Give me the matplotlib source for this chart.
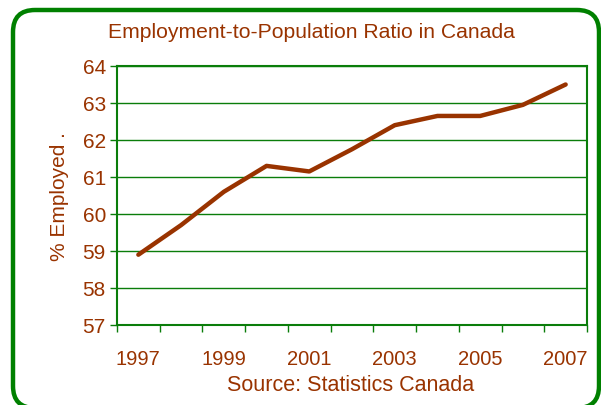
import numpy as np
import matplotlib
matplotlib.use("Agg")
import matplotlib.pyplot as plt
from matplotlib.patches import FancyBboxPatch

years = [1997, 1998, 1999, 2000, 2001, 2002, 2003, 2004, 2005, 2006, 2007]
ratio = [58.9, 59.7, 60.6, 61.3, 61.15, 61.75, 62.4, 62.65, 62.65, 62.95, 63.5]
label_years = ["1997", "1999", "2001", "2003", "2005", "2007"]

brown = "#993300"
green = "#0a7d0a"

plt.rcParams['font.family'] = ['Liberation Sans', 'DejaVu Sans']

fig = plt.figure(figsize=(6.01, 4.06), dpi=100)
ax = fig.add_axes([117 / 601, 1 - 326 / 406, 470 / 601, 259 / 406])

x = np.arange(len(years))
ax.plot(x, ratio, color=brown, lw=3.2, solid_capstyle="round", solid_joinstyle="round", zorder=3)

ax.set_xlim(-0.5, len(years) - 0.5)
ax.set_ylim(57, 64)
ax.set_yticks(range(57, 65))
ax.grid(axis="y", color=green, lw=1.0)

ax.set_xticks(np.arange(-0.5, len(years), 1))
ax.set_xticklabels([])
ax.set_xticks(x[::2], minor=True)
ax.set_xticklabels(label_years, minor=True)
ax.tick_params(axis="x", which="major", length=5, color=green, width=1)
ax.tick_params(axis="x", which="minor", length=0, pad=17, labelsize=14.5, labelcolor=brown)
ax.tick_params(axis="y", length=5, color=green, width=1, pad=3, labelsize=15, labelcolor=brown)

for s in ax.spines.values():
    s.set_color(green)
    s.set_linewidth(1.5)

ax.set_ylabel("% Employed .", color=brown, fontsize=15, labelpad=10)

fig.text(311 / 601, 1 - 33 / 406, "Employment-to-Population Ratio in Canada",
         color=brown, fontsize=15.2, ha="center", va="center")
fig.text(351 / 601, 1 - 386 / 406, "Source: Statistics Canada",
         color=brown, fontsize=15.5, ha="center", va="center")

border = FancyBboxPatch((0.13, -0.03), 5.86, 3.98,
                        boxstyle="round,pad=0,rounding_size=0.22",
                        transform=fig.dpi_scale_trans, fill=False,
                        edgecolor="#008000", lw=3.2, clip_on=False)
fig.patches.append(border)

fig.savefig("out.png", dpi=100)
